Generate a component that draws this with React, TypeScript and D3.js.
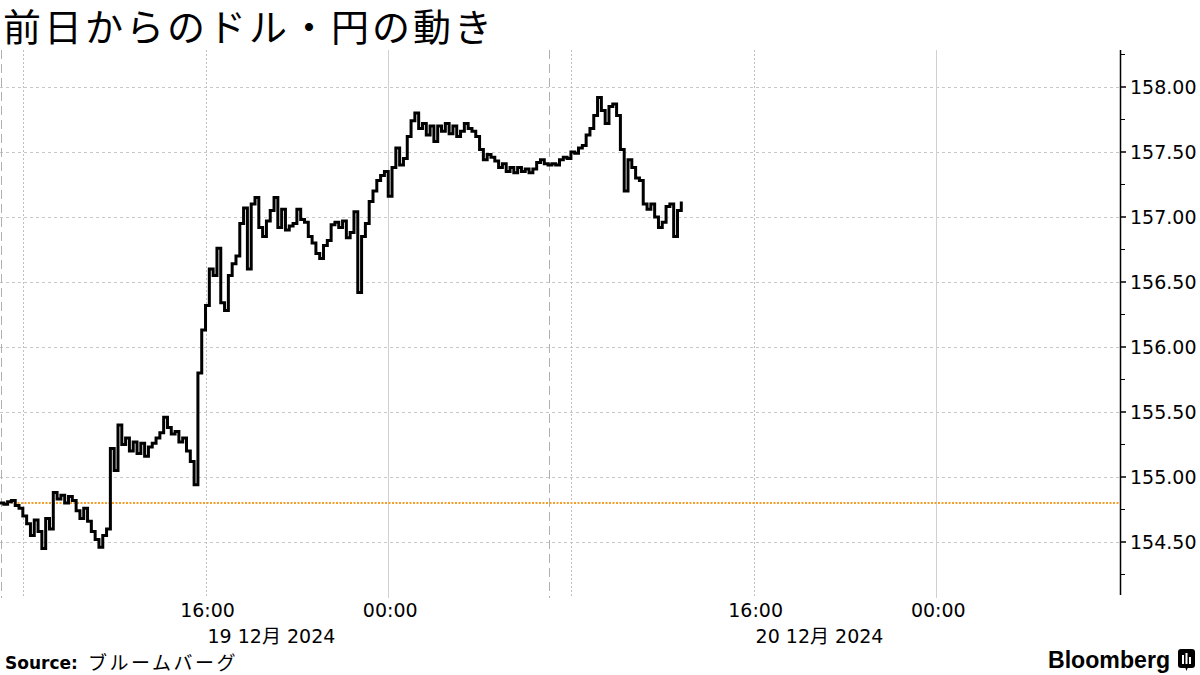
import React from "react";
import * as d3 from "d3";

// ---- data ----
const TITLE = "前日からのドル・円の動き";
const SOURCE_LABEL = "Source:";
const SOURCE_TEXT = "ブルームバーグ";
const START_HOUR = 7; // 19 Dec 2024 07:00 (hours since 19 Dec 00:00)
const STEP_MIN = 10;
const usdjpy = [
  154.80, 154.79, 154.81, 154.82, 154.78, 154.76, 154.70, 154.64, 154.55, 154.67,
  154.58, 154.45, 154.68, 154.60, 154.88, 154.83, 154.86, 154.80, 154.85, 154.82,
  154.74, 154.68, 154.76, 154.66, 154.58, 154.52, 154.46, 154.55, 154.60, 155.22,
  155.05, 155.40, 155.25, 155.30, 155.20, 155.27, 155.18, 155.26, 155.16, 155.23,
  155.26, 155.30, 155.34, 155.46, 155.38, 155.33, 155.35, 155.27, 155.30, 155.20,
  155.12, 154.94, 155.80, 156.13, 156.32, 156.60, 156.55, 156.76, 156.34, 156.28,
  156.55, 156.64, 156.70, 156.95, 157.07, 156.60, 157.10, 157.15, 156.92, 156.85,
  156.97, 157.05, 157.15, 156.92, 157.06, 156.90, 156.93, 156.95, 157.06, 156.98,
  156.96, 156.85, 156.80, 156.72, 156.68, 156.78, 156.82, 156.94, 156.96, 156.92,
  156.97, 156.84, 156.88, 157.04, 156.42, 156.85, 156.95, 157.12, 157.20, 157.28,
  157.32, 157.35, 157.16, 157.38, 157.53, 157.40, 157.45, 157.62, 157.74, 157.80,
  157.68, 157.72, 157.63, 157.70, 157.58, 157.70, 157.66, 157.72, 157.64, 157.70,
  157.62, 157.66, 157.72, 157.68, 157.66, 157.62, 157.52, 157.44, 157.48, 157.46,
  157.43, 157.38, 157.41, 157.35, 157.38, 157.34, 157.38, 157.35, 157.37, 157.34,
  157.37, 157.42, 157.44, 157.41, 157.40, 157.41, 157.40, 157.44, 157.46, 157.45,
  157.50, 157.49, 157.53, 157.55, 157.63, 157.68, 157.78, 157.92, 157.82, 157.72,
  157.85, 157.87, 157.78, 157.52, 157.20, 157.44, 157.38, 157.30, 157.28, 157.10,
  157.06, 157.10, 157.00, 156.92, 156.96, 157.08, 157.10, 156.85, 157.05, 157.12,
];
const PREV_CLOSE = 154.80;
const yMajorTicks = [154.5, 155.0, 155.5, 156.0, 156.5, 157.0, 157.5, 158.0];
const yMinorTicks = [154.25, 154.75, 155.25, 155.75, 156.25, 156.75, 157.25, 157.75, 158.25];
const xDottedHours = [8, 16, 32, 40];
const xSolidHours = [24, 48];
const xSessionHours = [7, 31];
const xTickHours = [16, 24, 40, 48];
const xTickLabels = ["16:00", "00:00", "16:00", "00:00"];
const dateHours = [16, 40];
const dateLabels = ["19 12月 2024", "20 12月 2024"];

// ---- layout ----
const W = 1200;
const H = 675;
const PLOT_L = 0;
const PLOT_R = 1119;
const PLOT_T = 50;
const PLOT_B = 595;
const AXIS_X = 1120;

export default function App() {
  const x = d3.scaleLinear().domain([7, 56]).range([PLOT_L, PLOT_R]);
  const y = d3.scaleLinear().domain([154.0923, 158.2846]).range([PLOT_B, PLOT_T]);
  const pts = usdjpy.map((v, i) => ({ t: START_HOUR + (i * STEP_MIN) / 60, v }));
  const line = d3
    .line<{ t: number; v: number }>()
    .x((d) => x(d.t))
    .y((d) => y(d.v))
    .curve(d3.curveStepAfter);

  const tickFont = "'DejaVu Sans', 'Noto Sans CJK JP', sans-serif";

  return (
    <svg
      width={W}
      height={H}
      style={{ position: "absolute", left: 0, top: 0, background: "#fff" }}
    >
      <rect x={0} y={0} width={W} height={H} fill="#fff" />
      <text
        x={3}
        y={41}
        fontFamily="'Noto Sans CJK JP', sans-serif"
        fontSize={38}
        fill="#000"
        letterSpacing={3}
      >
        {TITLE}
      </text>

      {/* horizontal gridlines */}
      {yMajorTicks.map((t) => (
        <line
          key={"h" + t}
          x1={PLOT_L}
          x2={AXIS_X}
          y1={Math.round(y(t)) + 0.5}
          y2={Math.round(y(t)) + 0.5}
          stroke="#c8c8c8"
          strokeWidth={1}
          strokeDasharray="3,3"
        />
      ))}
      {/* vertical gridlines */}
      {xDottedHours.map((h) => (
        <line
          key={"vd" + h}
          x1={Math.round(x(h)) + 0.5}
          x2={Math.round(x(h)) + 0.5}
          y1={PLOT_T}
          y2={598}
          stroke="#c0c0c0"
          strokeWidth={1}
          strokeDasharray="2,2"
        />
      ))}
      {xSolidHours.map((h) => (
        <line
          key={"vs" + h}
          x1={Math.round(x(h)) + 0.5}
          x2={Math.round(x(h)) + 0.5}
          y1={PLOT_T}
          y2={598}
          stroke="#d0d0d0"
          strokeWidth={1}
        />
      ))}
      {xSessionHours.map((h) => (
        <line
          key={"vx" + h}
          x1={Math.round(x(h)) + 1.5}
          x2={Math.round(x(h)) + 1.5}
          y1={PLOT_T}
          y2={598}
          stroke="#b0b0b0"
          strokeWidth={1}
          strokeDasharray="9,5"
        />
      ))}

      {/* previous close reference */}
      <line
        x1={PLOT_L}
        x2={AXIS_X}
        y1={y(PREV_CLOSE)}
        y2={y(PREV_CLOSE)}
        stroke="#f2a02a"
        strokeWidth={2}
        strokeDasharray="2,1.5"
      />

      {/* price line */}
      <path
        d={line(pts) || ""}
        fill="none"
        stroke="#000"
        strokeWidth={3}
        strokeLinejoin="miter"
      />

      {/* right axis */}
      <line x1={AXIS_X + 0.5} x2={AXIS_X + 0.5} y1={PLOT_T} y2={PLOT_B} stroke="#000" strokeWidth={1.5} />
      {yMajorTicks.map((t) => (
        <g key={"yt" + t}>
          <line
            x1={AXIS_X}
            x2={AXIS_X + 6}
            y1={y(t)}
            y2={y(t)}
            stroke="#000"
            strokeWidth={1.5}
          />
          <text
            x={1130}
            y={y(t)}
            dy="0.36em"
            fontFamily={tickFont}
            fontSize={19}
            fill="#000"
          >
            {d3.format(".2f")(t)}
          </text>
        </g>
      ))}
      {yMinorTicks.map((t) => (
        <line
          key={"ym" + t}
          x1={AXIS_X}
          x2={AXIS_X + 5}
          y1={y(t)}
          y2={y(t)}
          stroke="#000"
          strokeWidth={1}
        />
      ))}

      {/* x labels */}
      {xTickHours.map((h, i) => (
        <text
          key={"xt" + i}
          x={x(h) + 2}
          y={617}
          textAnchor="middle"
          fontFamily={tickFont}
          fontSize={19}
          fill="#000"
        >
          {xTickLabels[i]}
        </text>
      ))}
      {dateHours.map((h, i) => (
        <text
          key={"dt" + i}
          x={x(h) + 2}
          y={643}
          fontFamily={tickFont}
          fontSize={19}
          fill="#000"
        >
          {dateLabels[i]}
        </text>
      ))}

      {/* footer */}
      <text x={5} y={669} fontFamily="'DejaVu Sans', sans-serif" fontWeight="bold" fontSize={17} fill="#000">
        {SOURCE_LABEL}
      </text>
      <text x={88} y={670} fontFamily="'Noto Sans CJK JP', sans-serif" fontSize={19} fill="#000" letterSpacing={2.5}>
        {SOURCE_TEXT}
      </text>
      <text
        x={1048}
        y={668}
        fontFamily="'Liberation Sans', Arial, sans-serif"
        fontWeight="bold"
        fontSize={23}
        fill="#000"
        textLength={122}
        lengthAdjust="spacingAndGlyphs"
      >
        Bloomberg
      </text>
      <g transform="translate(1178,649)">
        <rect x={0} y={0} width={17} height={19} rx={3} fill="#000" />
        <path d="M7,18 L10,18 L8.5,22 Z" fill="#000" />
        <rect x={4} y={6} width={2} height={9} fill="#fff" />
        <rect x={7.5} y={4} width={2} height={11} fill="#fff" />
        <rect x={11} y={8} width={2} height={7} fill="#fff" />
      </g>
    </svg>
  );
}
